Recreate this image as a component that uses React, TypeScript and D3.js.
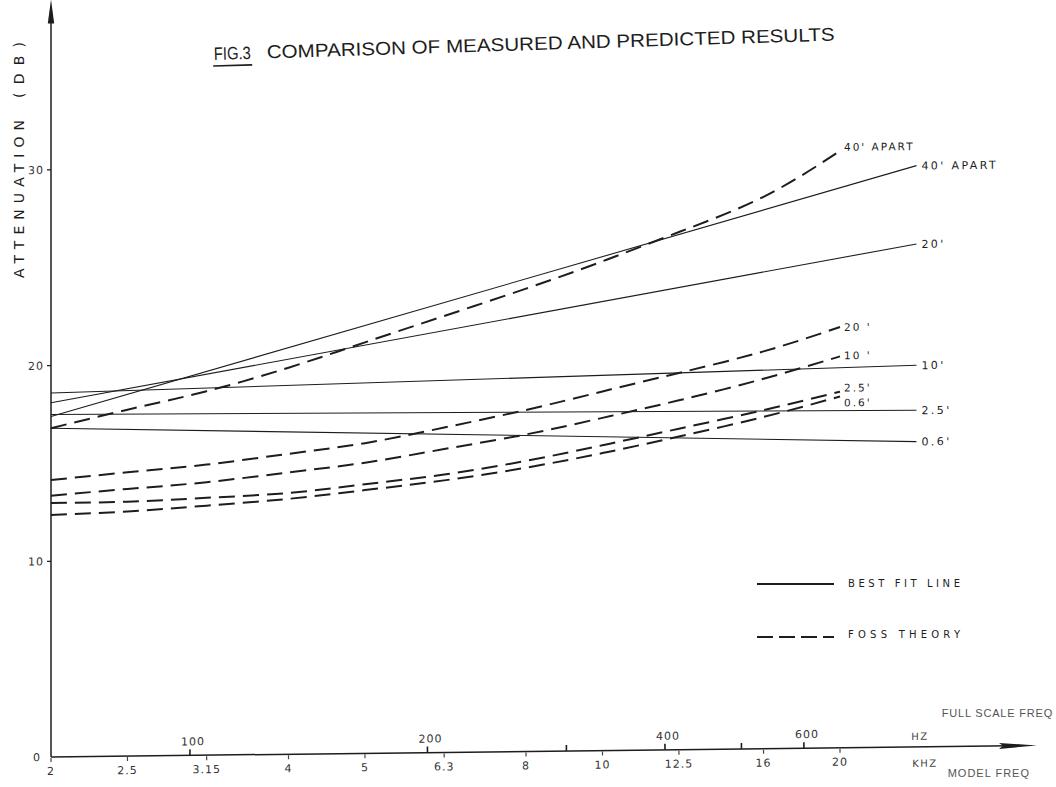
import * as d3 from "d3";

// model frequency ticks (kHz) and full-scale frequency ticks (Hz)
const modelTicks = [2, 2.5, 3.15, 4, 5, 6.3, 8, 10, 12.5, 16, 20];
const fullTicks = [100, 200, 300, 400, 500, 600];
const fullLabels = [100, 200, 400, 600];
const modelScale = 30; // 1:30 model
const yTicks = [0, 10, 20, 30];

// best fit lines: straight on log frequency, 2 -> 25 kHz
const bestFitFreq = [2, 25];
const best40 = [17.4, 29.7];
const best20 = [18.1, 25.7];
const best10 = [18.6, 19.5];
const best25 = [17.5, 17.2];
const best06 = [16.8, 15.6];

// Foss theory, read at the model frequency ticks
const fossFreq = modelTicks;
const foss40 = [16.8, 17.7, 18.6, 19.75, 21.0, 22.3, 23.65, 25.0, 26.45, 28.2, 30.5];
const foss20 = [14.15, 14.5, 14.85, 15.35, 15.85, 16.6, 17.45, 18.35, 19.25, 20.3, 21.5];
const foss10 = [13.35, 13.65, 13.95, 14.4, 14.85, 15.5, 16.2, 17.0, 17.85, 18.9, 20.0];
const foss25 = [12.98, 13.0, 13.15, 13.35, 13.75, 14.2, 14.85, 15.6, 16.4, 17.3, 18.2];
const foss06 = [12.37, 12.5, 12.75, 13.05, 13.45, 13.9, 14.5, 15.2, 16.0, 16.95, 17.95];

const bestSeries = [
  { label: "40' APART", values: best40, dy: 4 },
  { label: "20'", values: best20, dy: 4 },
  { label: "10'", values: best10, dy: 4 },
  { label: "2.5'", values: best25, dy: 4 },
  { label: "0.6'", values: best06, dy: 4 },
];
const fossSeries = [
  { label: "40' APART", values: foss40, dy: 0 },
  { label: "20 '", values: foss20, dy: 4 },
  { label: "10 '", values: foss10, dy: 3 },
  { label: "2.5'", values: foss25, dy: 0 },
  { label: "0.6'", values: foss06, dy: 10 },
];

const INK = "#1d1d1d";
const FONT = "'DejaVu Sans', 'Liberation Sans', sans-serif";
const NARROW = "'Liberation Sans', Arial, sans-serif";

export default function App() {
  const X0 = 51, Y0 = 757;
  const x = d3.scaleLog().domain([2, 20]).range([0, 789]);
  const y = d3.scaleLinear().domain([0, 10]).range([0, -195.7]);

  const straight = d3.line<[number, number]>().x(d => x(d[0])).y(d => y(d[1]));
  const curved = d3.line<[number, number]>().x(d => x(d[0])).y(d => y(d[1])).curve(d3.curveNatural);

  const yTop = y(38.3);

  return (
    <svg width={1056} height={787} style={{ position: "absolute", left: 0, top: 0, background: "#fff" }}>
      {/* title */}
      <g transform="rotate(-1.8 215 60)" fill={INK} fontFamily={NARROW}>
        <text x={214} y={60} fontSize={18} textLength={37} lengthAdjust="spacingAndGlyphs">FIG.3</text>
        <line x1={213} x2={252} y1={66} y2={66} stroke={INK} strokeWidth={1.6} />
        <text x={267} y={60} fontSize={18.5} textLength={568} lengthAdjust="spacingAndGlyphs">
          COMPARISON OF MEASURED AND PREDICTED RESULTS
        </text>
      </g>

      {/* y axis title */}
      <g fontFamily={FONT} fontSize={14} fill={INK}>
        <text transform="translate(24,199) rotate(-90)" textAnchor="middle" textLength={158}
          lengthAdjust="spacing">ATTENUATION</text>
        <text transform="translate(24,70) rotate(-90)" textAnchor="middle" textLength={56}
          lengthAdjust="spacing">(DB)</text>
      </g>

      <g transform={`translate(${X0},${Y0}) skewY(-0.67)`}>
        {/* y axis */}
        <line x1={0} x2={0} y1={0} y2={yTop + 4} stroke={INK} strokeWidth={1.5} />
        <path d={`M0,${yTop - 8} L-3.2,${yTop + 16} L3.2,${yTop + 16} Z`} fill={INK} />
        {yTicks.map(t => (
          <g key={t}>
            {t > 0 && <line x1={-4} x2={0} y1={y(t)} y2={y(t)} stroke={INK} strokeWidth={1.2} />}
            <text x={t === 0 ? -10 : -7} y={y(t) + 4} textAnchor="end" fontFamily={FONT} fontSize={11}
              letterSpacing={1} fill="#333">{t}</text>
          </g>
        ))}

        {/* x axis */}
        <line x1={0} x2={960} y1={0} y2={0} stroke={INK} strokeWidth={1.5} />
        <path d={`M986,0 L948,-3 L952,0 L948,3 Z`} fill={INK} />
        {modelTicks.map(t => (
          <g key={t}>
            <line x1={x(t)} x2={x(t)} y1={1} y2={5} stroke="#444" strokeWidth={1.2} />
            <text x={x(t)} y={18} textAnchor="middle" fontFamily={FONT} fontSize={11} letterSpacing={1}
              fill="#333">{t}</text>
          </g>
        ))}
        {fullTicks.map(t => (
          <line key={t} x1={x(t * modelScale / 1000)} x2={x(t * modelScale / 1000)} y1={0} y2={-6}
            stroke={INK} strokeWidth={1.6} />
        ))}
        {fullLabels.map(t => (
          <text key={t} x={x(t * modelScale / 1000) + 3} y={-10} textAnchor="middle" fontFamily={FONT}
            fontSize={11} letterSpacing={1} fill="#333">{t}</text>
        ))}
        <text x={869} y={-7} textAnchor="middle" fontFamily={FONT} fontSize={10} letterSpacing={1.5} fill="#444">HZ</text>
        <text x={874} y={20} textAnchor="middle" fontFamily={FONT} fontSize={10} letterSpacing={1.5} fill="#444">KHZ</text>

        {/* best fit lines */}
        {bestSeries.map(s => {
          const pts = bestFitFreq.map((f, i) => [f, s.values[i]] as [number, number]);
          const end = pts[pts.length - 1];
          return (
            <g key={"b" + s.label}>
              <path d={straight(pts) || ""} fill="none" stroke={INK} strokeWidth={1.1} />
              <text x={x(end[0]) + 5} y={y(end[1]) + s.dy} fontFamily={FONT} fontSize={11}
                letterSpacing={2.4} fill={INK}>{s.label}</text>
            </g>
          );
        })}

        {/* Foss theory */}
        {fossSeries.map(s => {
          const pts = fossFreq.map((f, i) => [f, s.values[i]] as [number, number]);
          const end = pts[pts.length - 1];
          return (
            <g key={"f" + s.label}>
              <path d={curved(pts) || ""} fill="none" stroke={INK} strokeWidth={2} strokeDasharray="16 8" />
              <text x={x(end[0]) + 4} y={y(end[1]) + s.dy} fontFamily={FONT} fontSize={10.5}
                letterSpacing={2} fill={INK}>{s.label}</text>
            </g>
          );
        })}
      </g>

      {/* axis captions */}
      <text x={1053} y={717} textAnchor="end" fontFamily={NARROW} fontSize={11} letterSpacing={0.8} fill="#555">FULL SCALE FREQ</text>
      <text x={1030} y={777} textAnchor="end" fontFamily={NARROW} fontSize={11} letterSpacing={1} fill="#555">MODEL FREQ</text>

      {/* legend */}
      <g fontFamily={FONT} fontSize={10} fill={INK}>
        <line x1={757} x2={834} y1={584} y2={584} stroke={INK} strokeWidth={2} />
        <text x={848} y={587} textLength={112} lengthAdjust="spacing">BEST FIT LINE</text>
        <line x1={757} x2={834} y1={637} y2={637} stroke={INK} strokeWidth={2} strokeDasharray="16 6" />
        <text x={848} y={638} textLength={112} lengthAdjust="spacing">FOSS  THEORY</text>
      </g>
    </svg>
  );
}
